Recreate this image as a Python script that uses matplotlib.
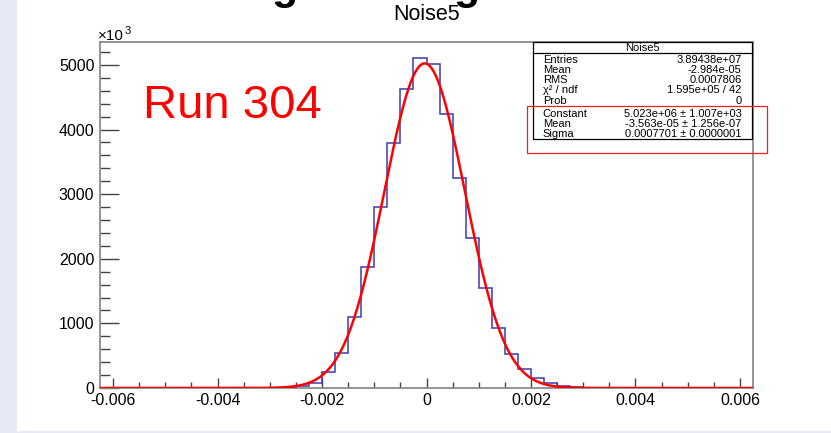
import numpy as np
import matplotlib
matplotlib.use('Agg')
import matplotlib.pyplot as plt
from matplotlib.patches import Rectangle
from matplotlib.lines import Line2D

W, H = 831, 433
plt.rcParams['font.family'] = ['Liberation Sans', 'DejaVu Sans']

# ---------------- data ----------------
hist_title = "Noise5"
hist_range = (-0.00625, 0.00625)
n_bins = 50
# bin contents in units of 10^3
counts = [0, 0, 0, 0, 0, 0, 0, 0, 0, 0, 0, 0,
          1, 3, 8, 25, 75, 243, 538, 1096, 1865, 2801, 3794, 4620,
          5100, 5020, 4233, 3251, 2321, 1545, 925, 527, 290, 150, 73, 33,
          12, 4, 1,
          0, 0, 0, 0, 0, 0, 0, 0, 0, 0, 0]

fit_constant = 5.023e+06
fit_mean = -3.563e-05
fit_sigma = 0.0007701

x_ticks = [-0.006, -0.004, -0.002, 0.0, 0.002, 0.004, 0.006]
x_tick_labels = ["-0.006", "-0.004", "-0.002", "0", "0.002", "0.004", "0.006"]
y_ticks = [0, 1000, 2000, 3000, 4000, 5000]
y_tick_labels = ["0", "1000", "2000", "3000", "4000", "5000"]

stat_names = ["Entries", "Mean", "RMS", "\u03c7\u00b2 / ndf", "Prob",
              "Constant", "Mean", "Sigma"]
stat_values = ["3.89438e+07", "-2.984e-05", "0.0007806", "1.595e+05 / 42", "0",
               "5.023e+06 \u00b1 1.007e+03", "-3.563e-05 \u00b1 1.256e-07",
               "0.0007701 \u00b1 0.0000001"]
run_label = "Run 304"

# ---------------- figure ----------------
fig = plt.figure(figsize=(W / 100, H / 100), dpi=100)
fig.patch.set_facecolor('white')

def fx(px):
    return px / W

def fy(py):
    return 1 - py / H

# slide decorations
fig.patches.append(Rectangle((0, 0), fx(17), 1, transform=fig.transFigure,
                             facecolor='#e7e9f6', edgecolor='none', zorder=0))
fig.patches.append(Rectangle((0, 0), 1, 2.5 / H, transform=fig.transFigure,
                             facecolor='#e7e9f6', edgecolor='none', zorder=0))
for gx in (284, 466):
    fig.text(fx(gx), fy(-1), "g", fontsize=31, fontweight='bold', ha='center',
             va='baseline', color='black')

ax = fig.add_axes([fx(100), fy(388), 653 / W, 346 / H])
edges = np.linspace(hist_range[0], hist_range[1], n_bins + 1)
ax.stairs(counts, edges, color='#3a3ab0', linewidth=1.1, zorder=3)

xf = np.linspace(hist_range[0], hist_range[1], 600)
yf = fit_constant * np.exp(-0.5 * ((xf - fit_mean) / fit_sigma) ** 2) / 1000.0
ax.plot(xf, yf, color='#ff0000', linewidth=1.8, zorder=4)

ax.set_xlim(hist_range)
ax.set_ylim(0, max(counts) * 1.05)

ax.set_xticks(x_ticks)
ax.set_xticklabels(x_tick_labels)
ax.set_xticks(np.arange(-0.006, 0.00601, 0.0005), minor=True)
ax.set_yticks(y_ticks)
ax.set_yticklabels(y_tick_labels)
ax.set_yticks(np.arange(0, 5201, 200), minor=True)

ax.tick_params(axis='both', which='both', direction='in', top=False, right=False,
               color='#444444', width=1.0)
ax.tick_params(axis='y', which='major', length=13.7, pad=4, labelsize=11.5)
ax.tick_params(axis='y', which='minor', length=7.2)
ax.tick_params(axis='x', which='major', length=7.2, pad=3.5, labelsize=11.5)
ax.tick_params(axis='x', which='minor', length=4.0)
for s in ax.spines.values():
    s.set_color('#8c8c8c')
    s.set_linewidth(1.3)

# exponent label
fig.text(fx(98), fy(40), "\u00d710", fontsize=11, ha='left', va='baseline')
fig.text(fx(124.5), fy(33.5), "3", fontsize=8, ha='left', va='baseline')

# title
fig.text(fx(427), fy(20), hist_title, fontsize=15.5, ha='center', va='baseline')

# run label
fig.text(fx(143), fy(118), run_label, fontsize=34, color='#ff0000',
         ha='left', va='baseline')

# stats box
bx0, bx1, by0, by1 = 533, 752, 42, 139
fig.patches.append(Rectangle((fx(bx0), fy(by1)), fx(bx1) - fx(bx0), fy(by0) - fy(by1),
                             transform=fig.transFigure, facecolor='white',
                             edgecolor='black', linewidth=0.9, zorder=5))
fig.lines.append(Line2D([fx(bx0), fx(bx1)], [fy(52.5), fy(52.5)],
                        transform=fig.transFigure, color='black', linewidth=0.9, zorder=6))
fig.text(fx((bx0 + bx1) / 2), fy(51), hist_title, fontsize=8, ha='center',
         va='baseline', zorder=7)
baselines = [63.3, 73.3, 83.0, 93.3, 103.5, 117.2, 127.4, 136.8]
for name, val, b in zip(stat_names, stat_values, baselines):
    fig.text(fx(542.7), fy(b), name, fontsize=8, ha='left', va='baseline', zorder=7)
    fig.text(fx(741.7), fy(b), val, fontsize=8, ha='right', va='baseline', zorder=7)

# red highlight box
fig.patches.append(Rectangle((fx(527.3), fy(153.3)), fx(766.7) - fx(527.3),
                             fy(105.7) - fy(153.3), transform=fig.transFigure,
                             facecolor='none', edgecolor='#ee2020', linewidth=0.9,
                             zorder=8))

fig.savefig('out.png', dpi=100)
